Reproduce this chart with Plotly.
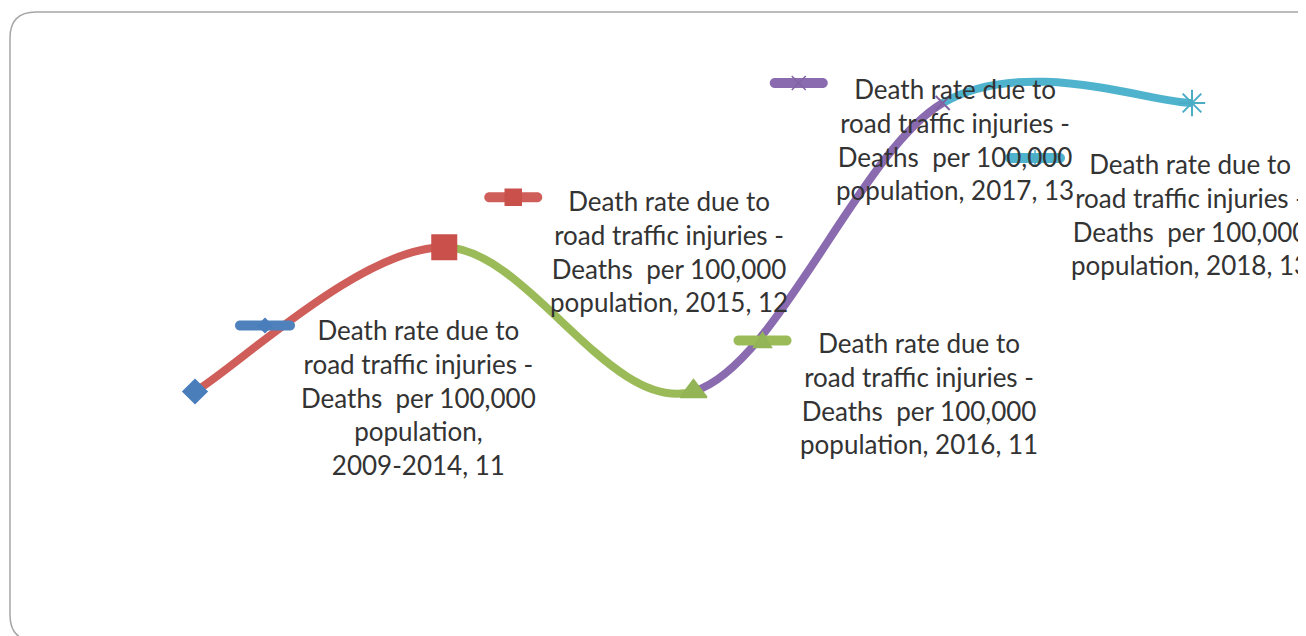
import plotly.graph_objects as go

# ---------------- data ----------------
categories = ["2009-2014", "2015", "2016", "2017", "2018"]
values = [11, 12, 11, 13, 13]
series_name_lines = ["Death rate due to", "road traffic injuries -", "Deaths\u00a0 per 100,000", "population,"]

# ---------------- styles ----------------
line_colors = ["#4F81BD", "#CF5E5A", "#9BBB59", "#8B6BB0", "#4FB3CE"]
marker_colors = ["#4A7EBB", "#C9504B", "#93B556", "#8064A2", "#4BACC6"]
marker_symbols = ["diamond", "square", "triangle-up", "x-thin", "asterisk"]
marker_sizes = [18, 24, 23, 14, 22]
FONT = "Lato"
OFF = 8  # page body margin compensation
W, H = 1306 - OFF, 636 - OFF

n = len(values)
xs = list(range(n))

fig = go.Figure()

# smooth segments (Catmull-Rom style Bezier through the data points)
def tangent(i):
    a = max(i - 1, 0)
    b = min(i + 1, n - 1)
    return ((xs[b] - xs[a]) / 2.0, (values[b] - values[a]) / 2.0)

shapes = []
for i in range(n - 1):
    t0 = tangent(i)
    t1 = tangent(i + 1)
    c1 = (xs[i] + t0[0] / 3, values[i] + t0[1] / 3)
    c2 = (xs[i + 1] - t1[0] / 3, values[i + 1] - t1[1] / 3)
    path = f"M {xs[i]},{values[i]} C {c1[0]},{c1[1]} {c2[0]},{c2[1]} {xs[i+1]},{values[i+1]}"
    shapes.append(dict(type="path", xref="x", yref="y", path=path,
                       line=dict(color=line_colors[i + 1], width=8), layer="below"))

# point markers
fig.add_trace(go.Scatter(
    x=xs, y=values, mode="markers", showlegend=False, hoverinfo="skip",
    marker=dict(symbol=marker_symbols, size=marker_sizes, color=marker_colors, opacity=1,
                line=dict(color=marker_colors, width=2)),
))

# data labels with legend keys (offsets in pixels from the point)
key_offsets = [(40, 100, 66), (40, 98, 50), (40, 98, 51), (-173, -115, 20), (-187, -127, -55)]
text_offsets = [(223, -6), (225, -4), (225, -2), (12, -36), (-2, -111)]

def pill(x0, x1, yc, h=10):
    r = h / 2
    k = r * 0.552
    return (f"M {x0+r},{yc+r} L {x1-r},{yc+r} "
            f"C {x1-r+k},{yc+r} {x1},{yc+k} {x1},{yc} "
            f"C {x1},{yc-k} {x1-r+k},{yc-r} {x1-r},{yc-r} "
            f"L {x0+r},{yc-r} "
            f"C {x0+r-k},{yc-r} {x0},{yc-k} {x0},{yc} "
            f"C {x0},{yc+k} {x0+r-k},{yc+r} {x0+r},{yc+r} Z")

def key_marker(sym, cx, cy):
    if sym == "diamond":
        s = 7
        return f"M {cx},{cy+s} L {cx+s},{cy} L {cx},{cy-s} L {cx-s},{cy} Z", True
    if sym == "square":
        s = 8
        return f"M {cx-s},{cy-s} L {cx+s},{cy-s} L {cx+s},{cy+s} L {cx-s},{cy+s} Z", True
    if sym == "triangle-up":
        s = 9
        return f"M {cx-s},{cy-7} L {cx+s},{cy-7} L {cx},{cy+8} Z", True
    if sym == "x-thin":
        s = 7
        return f"M {cx-s},{cy-s} L {cx+s},{cy+s} M {cx-s},{cy+s} L {cx+s},{cy-s}", False
    s = 8
    return (f"M {cx-s},{cy} L {cx+s},{cy} M {cx},{cy-s} L {cx},{cy+s} "
            f"M {cx-6},{cy-6} L {cx+6},{cy+6} M {cx-6},{cy+6} L {cx+6},{cy-6}"), False

annotations = []
for i in range(n):
    kx0, kx1, ky = key_offsets[i]
    shapes.append(dict(type="path", xref="x", yref="y", xsizemode="pixel", ysizemode="pixel",
                       xanchor=xs[i], yanchor=values[i], path=pill(kx0, kx1, ky),
                       fillcolor=line_colors[i], line=dict(width=0), layer="above"))
    p, filled = key_marker(marker_symbols[i], (kx0 + kx1) / 2, ky)
    shapes.append(dict(type="path", xref="x", yref="y", xsizemode="pixel", ysizemode="pixel",
                       xanchor=xs[i], yanchor=values[i], path=p,
                       fillcolor=marker_colors[i] if filled else "rgba(0,0,0,0)",
                       line=dict(color=marker_colors[i], width=1.5), layer="above"))
    tail = f"population, {categories[i]}, {values[i]}"
    lines = series_name_lines[:3]
    if len(tail) > 22:
        lines = lines + [series_name_lines[3], f"{categories[i]}, {values[i]}"]
    else:
        lines = lines + [tail]
    tx, ty = text_offsets[i]
    annotations.append(dict(x=xs[i], y=values[i], xref="x", yref="y", showarrow=False,
                            text="<br>".join(lines), align="center",
                            xanchor="center", yanchor="middle",
                            xshift=tx, yshift=ty,
                            font=dict(family=FONT, size=26, color="#333333")))

# rounded frame
def px(x):
    return (x - OFF) / W

def py(y):
    return 1 - (y - OFF) / H

R = 26
frame = (f"M {px(1330)},{py(12)} L {px(10+R)},{py(12)} Q {px(10)},{py(12)} {px(10)},{py(12+R)} "
         f"L {px(10)},{py(641-R)} Q {px(10)},{py(641)} {px(10+R)},{py(641)} L {px(1330)},{py(641)}")
shapes.append(dict(type="path", xref="paper", yref="paper", path=frame,
                   line=dict(color="#A6A6A6", width=1.5), layer="below"))

# axis ranges so that categories sit at their pixel positions
x0_px, dx_px = 195 - OFF, 249.25
y11_px, du_px = 391.5 - OFF, 144.25
x_left = -x0_px / dx_px
x_right = (W - x0_px) / dx_px
y_top = 11 + y11_px / du_px
y_bottom = 11 - (H - y11_px) / du_px

fig.update_layout(
    width=W, height=H,
    margin=dict(l=0, r=0, t=0, b=0),
    paper_bgcolor="white", plot_bgcolor="white",
    xaxis=dict(range=[x_left, x_right], visible=False),
    yaxis=dict(range=[y_bottom, y_top], visible=False),
    shapes=shapes, annotations=annotations, showlegend=False,
)

fig.write_html("out.html")
